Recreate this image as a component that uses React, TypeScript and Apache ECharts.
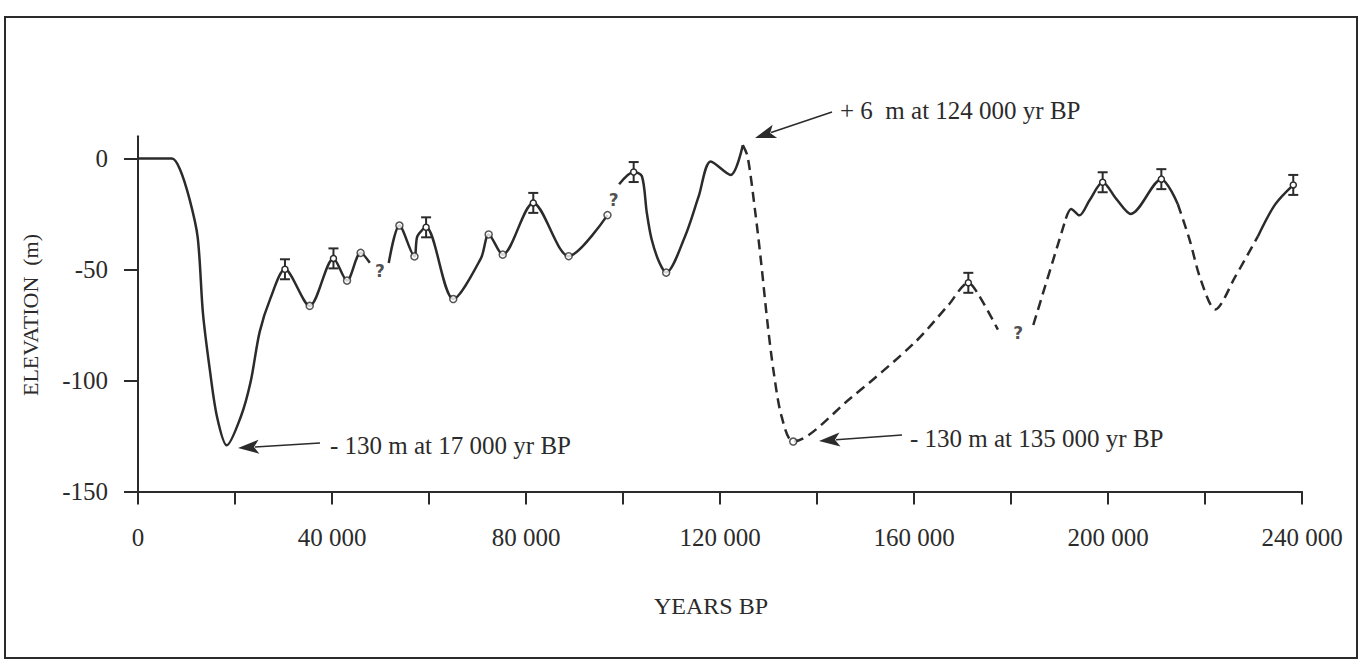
import React, { useEffect, useRef } from "react";
import * as echarts from "echarts";

// Years BP / elevation (m)
const solid1: [number, number][] = [
  [0, 0], [7000, 0], [8600, -4.6], [10600, -18.1], [12300, -35.4], [13400, -69.9], [14800, -95],
  [16300, -116.4], [18300, -129.2], [21200, -116.3], [23200, -100.8], [25100, -78], [27300, -63],
  [30300, -49.9], [35400, -66.4], [40300, -45], [43100, -55], [45900, -42.5], [47800, -47],
];
const solid2: [number, number][] = [
  [51700, -47.1], [53900, -30.2], [57000, -44.1], [57600, -35], [59400, -31], [65000, -63.3],
  [70700, -45], [72300, -34.2], [75200, -43.3], [81500, -20], [88800, -44], [96800, -25.5],
];
const solid3: [number, number][] = [
  [99200, -11.6], [102200, -6.1], [103900, -8], [104900, -24.3], [105900, -36.4], [107500, -46.9],
  [108900, -51.4], [112800, -35], [115600, -17.1], [118100, -1.3], [122200, -7.4], [124700, 6],
];
const dashed1: [number, number][] = [
  [124700, 6], [125700, 0.8], [127300, -24.7], [128500, -47.2], [129800, -74.2], [131100, -96.7],
  [132700, -116.2], [135100, -127.5], [146900, -108], [160100, -83], [167100, -66],
  [171200, -56], [173300, -61.3], [177300, -77.1],
];
const dashed2: [number, number][] = [[184600, -75], [191300, -27.1]];
const solid4: [number, number][] = [
  [191300, -27.1], [192400, -22.7], [194100, -25.6], [196200, -18.8], [198900, -10.7],
  [201700, -18.2], [204700, -25], [211000, -9.3], [214400, -20.6],
];
const dashed3: [number, number][] = [
  [214400, -20.6], [216800, -36.4], [219100, -54.5], [222100, -68], [226300, -53], [230900, -35.1],
];
const solid5: [number, number][] = [[230900, -35.1], [234400, -20.9], [238200, -11.9]];

// points with error bars: [year, elevation, half-error]
const errorPoints: [number, number, number][] = [
  [30300, -49.9, 4.5], [40300, -45, 4.5], [59400, -31, 4.5], [81500, -20, 4.5], [102200, -6.1, 4.5],
  [171200, -56, 4.5], [198900, -10.7, 4.5], [211000, -9.3, 4.5], [238200, -11.9, 4.5],
];
// dated points without error bar
const circlePoints: [number, number][] = [
  [35400, -66.4], [43100, -55], [45900, -42.5], [53900, -30.2], [57000, -44.1], [65000, -63.3],
  [72300, -34.2], [75200, -43.3], [88800, -44], [96800, -25.5], [108900, -51.4], [135100, -127.5],
];
const questionPoints: [number, number][] = [[49900, -50.8], [98100, -18.8], [181500, -78.7]];

const xTicks = [0, 20000, 40000, 60000, 80000, 100000, 120000, 140000, 160000, 180000, 200000, 220000, 240000];
const xLabels = [0, 40000, 80000, 120000, 160000, 200000, 240000];
const yTicks = [-150, -100, -50, 0];

const annotations = [
  { text: "- 130 m at 17 000 yr BP", x: 330, y: 445, tail: [320, 443], tip: [238, 448] },
  { text: "- 130 m at 135 000 yr BP", x: 910, y: 438, tail: [902, 435], tip: [819, 441] },
  { text: "+ 6  m at 124 000 yr BP", x: 840, y: 110, tail: [832, 112], tip: [755, 138] },
];

const INK = "#2b2b2b";
const FONT = "Liberation Serif";

function arrow(tail: number[], tip: number[]) {
  const dx = tip[0] - tail[0];
  const dy = tip[1] - tail[1];
  const len = Math.sqrt(dx * dx + dy * dy);
  const ux = dx / len, uy = dy / len;
  const head = 21, half = 7;
  const bx = tip[0] - ux * head, by = tip[1] - uy * head;
  return [
    { type: "line", shape: { x1: tail[0], y1: tail[1], x2: bx + ux * 4, y2: by + uy * 4 }, style: { stroke: INK, lineWidth: 1.5 } },
    {
      type: "polygon",
      shape: { points: [[tip[0], tip[1]], [bx - uy * half, by + ux * half], [bx + ux * 5, by + uy * 5], [bx + uy * half, by - ux * half]] },
      style: { fill: INK },
    },
  ];
}

export default function App() {
  const ref = useRef<HTMLDivElement>(null);
  useEffect(() => {
    const chart = echarts.init(ref.current!, null, { renderer: "svg" });
    const lineSeries = (data: [number, number][], dashed: boolean) => ({
      type: "line",
      data,
      smooth: 0.3,
      symbol: "none",
      z: 2,
      lineStyle: { color: INK, width: 2.5, type: dashed ? [10, 6] : "solid" },
    });
    const graphics: any[] = [
      { type: "rect", shape: { x: 5, y: 17, width: 1352, height: 641 }, style: { fill: "none", stroke: INK, lineWidth: 2 } },
      {
        type: "text", x: 30, y: 315, rotation: Math.PI / 2,
        style: { text: "ELEVATION  (m)", fontFamily: FONT, fontSize: 22, fill: INK, align: "center", verticalAlign: "middle" },
      },
      {
        type: "text", x: 711, y: 606,
        style: { text: "YEARS BP", fontFamily: FONT, fontSize: 24, fill: INK, align: "center", verticalAlign: "middle" },
      },
    ];
    annotations.forEach((a) => {
      graphics.push({
        type: "text", x: a.x, y: a.y,
        style: { text: a.text, fontFamily: FONT, fontSize: 25, fill: INK, align: "left", verticalAlign: "middle" },
      });
      graphics.push(...arrow(a.tail, a.tip));
    });

    chart.setOption({
      animation: false,
      backgroundColor: "#ffffff",
      textStyle: { fontFamily: FONT },
      grid: { left: 138, right: 63, top: 136.3, bottom: 172.5, containLabel: false, outerBoundsMode: "none" },
      xAxis: {
        type: "value", min: 0, max: 240000, interval: 20000,
        splitLine: { show: false },
        axisLine: { onZero: false, lineStyle: { color: INK, width: 2 } },
        axisTick: { show: true, length: 13, lineStyle: { color: INK, width: 2 }, customValues: xTicks },
        axisLabel: {
          customValues: xLabels, margin: 33, color: INK, fontFamily: FONT, fontSize: 25,
          formatter: (v: number) => (v === 0 ? "0" : `${v / 1000} 000`),
        },
      },
      yAxis: {
        type: "value", min: -150, max: 10, interval: 50,
        splitLine: { show: false },
        axisLine: { onZero: false, lineStyle: { color: INK, width: 2 } },
        axisTick: { show: true, length: 14, lineStyle: { color: INK, width: 2 }, customValues: yTicks },
        axisLabel: { customValues: yTicks, margin: 30, color: INK, fontFamily: FONT, fontSize: 25 },
      },
      series: [
        lineSeries(solid1, false),
        lineSeries(solid2, false),
        lineSeries(solid3, false),
        lineSeries(dashed1, true),
        lineSeries(dashed2, true),
        lineSeries(solid4, false),
        lineSeries(dashed3, true),
        lineSeries(solid5, false),
        {
          type: "custom",
          z: 4,
          data: errorPoints,
          renderItem: (params: any, api: any) => {
            const x = api.value(0), y = api.value(1), e = api.value(2);
            const c = api.coord([x, y]);
            const t = api.coord([x, y + e]);
            const b = api.coord([x, y - e]);
            const st = { stroke: INK, lineWidth: 2 };
            return {
              type: "group",
              children: [
                { type: "line", shape: { x1: t[0], y1: t[1], x2: b[0], y2: b[1] }, style: st },
                { type: "line", shape: { x1: t[0] - 5, y1: t[1], x2: t[0] + 5, y2: t[1] }, style: st },
                { type: "line", shape: { x1: b[0] - 5, y1: b[1], x2: b[0] + 5, y2: b[1] }, style: st },
                { type: "circle", shape: { cx: c[0], cy: c[1], r: 3 }, style: { fill: "#ffffff", stroke: INK, lineWidth: 1.5 } },
              ],
            };
          },
        },
        {
          type: "scatter",
          z: 4,
          data: circlePoints,
          symbol: "circle",
          symbolSize: 7,
          itemStyle: { color: "#ffffff", borderColor: INK, borderWidth: 1.5 },
        },
        {
          type: "scatter",
          z: 4,
          data: questionPoints,
          symbolSize: 1,
          itemStyle: { color: "rgba(255,255,255,0)" },
          label: {
            show: true, position: "inside", formatter: "?", color: "#222222",
            textBorderWidth: 0,
            fontFamily: "DejaVu Sans", fontWeight: "bold", fontSize: 17,
          },
        },
      ],
      graphic: graphics,
    });
    return () => chart.dispose();
  }, []);
  return <div ref={ref} style={{ position: "absolute", left: 0, top: 0, width: 1365, height: 664 }} />;
}
